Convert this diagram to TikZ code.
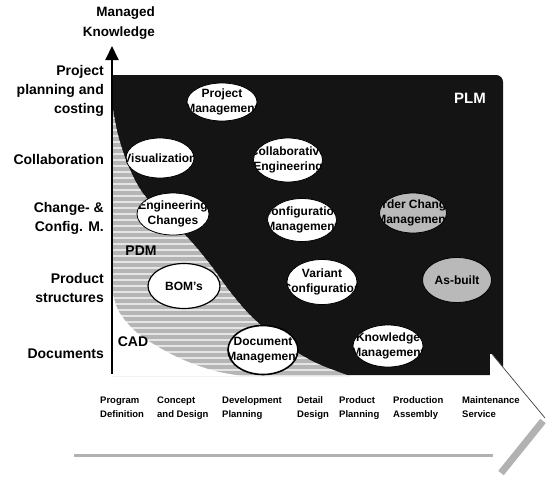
\documentclass[tikz,border=0pt]{standalone}
\usepackage{fontspec}
\setmainfont{Liberation Sans}
\usetikzlibrary{shapes.geometric, arrows.meta}

\begin{document}
\begin{tikzpicture}[x=1pt, y=-1pt,
  bubtext/.style={font=\fontsize{12}{15}\selectfont\bfseries, align=center, inner sep=0pt, text=black},
  bubble/.style={ellipse, draw=black, line width=0.8pt, fill=white,
    minimum width=70pt, minimum height=42pt, inner sep=0pt,
    path picture={\node[bubtext] at (path picture bounding box.center) {#1};}},
  greybubble/.style={bubble={#1}, fill=gray!55},
  axislabel/.style={font=\fontsize{14}{19}\selectfont\bfseries, align=right, anchor=east, inner sep=0pt},
  phase/.style={font=\fontsize{9.5}{14}\selectfont\bfseries, align=left, anchor=base west, inner sep=0pt},
  zone/.style={font=\fontsize{14}{16}\selectfont\bfseries, inner sep=0pt},
]
% canvas
\fill[white] (0,0) rectangle (546,480);
\useasboundingbox (0,0) rectangle (546,480);

% PLM field
\fill[black!92] (112,375) -- (112,75) -- (496,75)
  .. controls (500,75) and (503,78) .. (503,82) -- (503,375) -- cycle;

% PDM band (hatched)
\begin{scope}
  \clip plot[smooth, tension=0.6] coordinates {(112,104) (118,135) (128,165) (142,192) (163,215) (187,237) (209,263) (231,293) (253,318) (282,342) (314,362) (350,376)}
    -- (112,376) -- cycle;
  \fill[gray!58] (100,90) rectangle (360,380);
  \foreach \yy in {100,106,...,380} {
    \draw[gray!20, line width=1.3pt] (100,\yy) -- (360,\yy);
  }
\end{scope}

% CAD area
\fill[white] plot[smooth, tension=0.6] coordinates {(112,288) (118,310) (135,331) (160,348) (186,361) (215,371) (242,376)}
  -- (112,376) -- cycle;

% phase arrow
\fill[white] (492,354) -- (546,418) -- (500,477) -- (490,477) -- (490,354) -- cycle;
\draw[black!75, line width=0.7pt] (492,354) -- (545,418);
\draw[gray!60, line width=7pt] (501,473) -- (543,421);
\draw[gray!60, line width=3pt] (74,455) -- (493,455);

% zone labels
\node[zone, text=white, font=\fontsize{15}{17}\selectfont\bfseries] (plm) at (470,98) {PLM};
\node[zone] (pdm) at (141,251) {PDM};
\node[zone] (cad) at (133,342) {CAD};

% function bubbles
\node[bubble={Project\\Management}, minimum height=38pt] (pm) at (222,102) {};
\node[bubble={Visualization}, minimum width=68pt, minimum height=40pt] (vis) at (160,158) {};
\node[bubble={Collaborative\\Engineering}, minimum width=69pt, minimum height=44pt] (ce) at (288,160) {};
\node[bubble={Engineering\\Changes}, minimum width=72pt] (ec) at (173,214) {};
\node[bubble={Configuration\\Management}, minimum width=69pt, minimum height=43pt] (cm) at (302,220) {};
\node[greybubble={Order Change\\Management}, minimum width=67pt, minimum height=40pt] (ocm) at (413,213) {};
\node[bubble={BOM's}, minimum width=72pt, minimum height=45pt, line width=1.2pt] (bom) at (184,286) {};
\node[bubble={Variant\\Configuration}, minimum height=45pt] (vc) at (322,282) {};
\node[greybubble={As-built}, minimum width=69pt, minimum height=45pt] (ab) at (457,280) {};
\node[bubble={Document\\Management}, minimum height=49pt, line width=1.6pt] (dm) at (263,350) {};
\node[bubble={Knowledge\\Management}] (km) at (388,346) {};

% vertical axis
\coordinate (axbot) at (112,374);
\coordinate (axtop) at (112,46);
\draw[line width=2pt, -{Triangle[width=13pt,length=14pt]}] (axbot) -- (axtop);
\node[font=\fontsize{13.5}{20}\selectfont\bfseries, align=right, anchor=east, inner sep=0pt] (mk) at (155,23) {Managed\\Knowledge};

\node[axislabel] (l1) at (104,91) {Project\\planning and\\costing};
\node[axislabel] (l2) at (104,159) {Collaboration};
\node[axislabel] (l3) at (104,218) {Change- \&\\Config. M.};
\node[axislabel] (l4) at (104,288) {Product\\structures};
\node[axislabel] (l5) at (104,354) {Documents};

% lifecycle phases
\node[phase] (p1) at (100,417) {Program\\Definition};
\node[phase] (p2) at (157,417) {Concept\\and Design};
\node[phase] (p3) at (222,417) {Development\\Planning};
\node[phase] (p4) at (297,417) {Detail\\Design};
\node[phase] (p5) at (339,417) {Product\\Planning};
\node[phase] (p6) at (393,417) {Production\\Assembly};
\node[phase] (p7) at (462,417) {Maintenance\\Service};
\end{tikzpicture}
\end{document}
